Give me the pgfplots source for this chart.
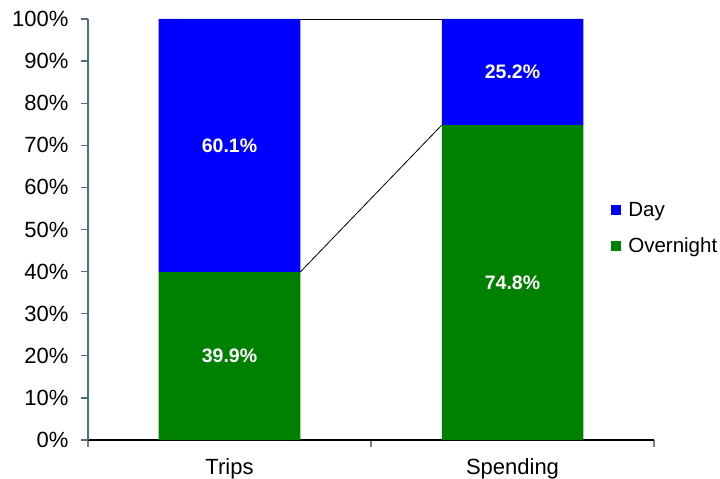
\documentclass[border=0pt]{standalone}
\usepackage{pgfplots}
\pgfplotsset{compat=1.18}
\usepackage{fontspec}
\setmainfont{Liberation Sans}
\definecolor{dayblue}{RGB}{0,0,255}
\definecolor{ngreen}{RGB}{0,128,0}
\definecolor{axgray}{RGB}{80,110,130}
\begin{document}
\begin{tikzpicture}
\path[use as bounding box] (-88pt,-39pt) rectangle (632pt,440pt);
\begin{axis}[
  at={(0pt,0pt)}, anchor=south west,
  scale only axis, width=566pt, height=421pt,
  ybar stacked, bar width=0.5,
  xmin=-0.5, xmax=1.5, ymin=0, ymax=100,
  clip=false,
  axis x line*=bottom, axis y line*=left,
  /pgf/number format/assume math mode=true,
  ytick={0,10,...,100},
  yticklabel={\pgfmathprintnumber{\tick}\%},
  tick align=outside,
  major tick length=7pt,
  y tick style={axgray, line width=1.2pt},
  x tick style={gray, line width=1.2pt},
  y axis line style={axgray, line width=1.2pt},
  x axis line style={black, line width=1.2pt},
  xtick={-0.5,0.5,1.5}, xticklabels={},
  extra x ticks={0,1}, extra x tick labels={Trips,Spending},
  extra x tick style={major tick length=0pt},
  tick label style={font=\fontsize{22}{26}\selectfont},
  yticklabel style={xshift=-9pt},
  xticklabel style={yshift=-15pt},
  legend style={draw=none, fill=none, at={(axis cs:1.338,57.5)}, anchor=north west,
    font=\fontsize{20.5}{24}\selectfont, row sep=16pt, cells={anchor=west},
    /tikz/every odd column/.append style={column sep=5pt}},
  reverse legend,
  legend image code/.code={\path[#1,draw=none] (0pt,-5pt) rectangle (10pt,5pt);},
  nodes near coords={\pgfmathprintnumber[fixed,precision=1,fixed zerofill]{\pgfplotspointmeta}\%},
  every node near coord/.append style={text=white, font=\bfseries\fontsize{19.5}{23}\selectfont},
]
\addplot[fill=ngreen, draw=none] coordinates {(0,39.9) (1,74.8)};
\addplot[fill=dayblue, draw=none] coordinates {(0,60.1) (1,25.2)};
\addplot[stack plots=false, sharp plot, black, line width=0.8pt, forget plot, nodes near coords={}] coordinates {(0.25,39.9) (0.75,74.8)};
\addplot[stack plots=false, sharp plot, black, line width=0.8pt, forget plot, nodes near coords={}] coordinates {(0.25,100) (0.75,100)};
\legend{Overnight, Day}
\end{axis}
\end{tikzpicture}
\end{document}
